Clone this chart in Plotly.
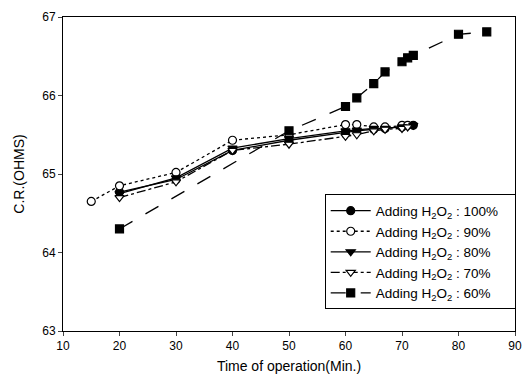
import plotly.graph_objects as go

x100 = [20, 30, 40, 50, 60, 62, 65, 67, 70, 72]
y100 = [64.77, 64.93, 65.30, 65.43, 65.53, 65.55, 65.57, 65.58, 65.60, 65.62]
x90 = [15, 20, 30, 40, 50, 60, 62, 65, 67, 70, 71]
y90 = [64.65, 64.85, 65.02, 65.43, 65.50, 65.63, 65.63, 65.60, 65.60, 65.62, 65.62]
x80 = [20, 30, 40, 50, 60, 62, 65, 67, 70, 72]
y80 = [64.75, 64.95, 65.33, 65.45, 65.55, 65.56, 65.58, 65.58, 65.60, 65.62]
x70 = [20, 30, 40, 50, 60, 62, 65, 67, 70, 71]
y70 = [64.70, 64.90, 65.30, 65.38, 65.48, 65.50, 65.55, 65.57, 65.58, 65.60]
x60 = [20, 50, 60, 62, 65, 67, 70, 71, 72, 80, 85]
y60 = [64.30, 65.55, 65.86, 65.97, 66.15, 66.30, 66.43, 66.48, 66.51, 66.78, 66.81]

names = ["Adding H<sub>2</sub>O<sub>2</sub> : 100%", "Adding H<sub>2</sub>O<sub>2</sub> : 90%",
         "Adding H<sub>2</sub>O<sub>2</sub> : 80%", "Adding H<sub>2</sub>O<sub>2</sub> : 70%",
         "Adding H<sub>2</sub>O<sub>2</sub> : 60%"]

series = [
    (x100, y100, "circle", "black", "solid"),
    (x90, y90, "circle", "white", "dot"),
    (x80, y80, "triangle-down", "black", "solid"),
    (x70, y70, "triangle-down", "white", "dashdot"),
    (x60, y60, "square", "black", "longdash"),
]

fig = go.Figure()
for (xs, ys, sym, fill, dash), nm in zip(series, names):
    fig.add_trace(go.Scatter(
        x=xs, y=ys, name=nm + "\u00a0\u00a0\u00a0", mode="lines+markers",
        line=dict(color="black", width=1.3, dash=dash),
        marker=dict(symbol=sym, size=8, color=fill,
                    line=dict(color="black", width=1.2)),
    ))

fig.update_layout(
    width=532, height=388,
    margin=dict(l=63, r=15, t=10, b=57),
    paper_bgcolor="white", plot_bgcolor="white",
    font=dict(family="Liberation Sans, Arial", size=12, color="black"),
    showlegend=True,
    legend=dict(x=0.579, y=0.435, xanchor="left", yanchor="top",
                bordercolor="black", borderwidth=1, bgcolor="white",
                itemwidth=40, font=dict(size=13.5)),
)
fig.update_xaxes(range=[10, 90], tickvals=[10, 20, 30, 40, 50, 60, 70, 80, 90],
                 showgrid=False, zeroline=False, showline=True, linecolor="black",
                 linewidth=1, mirror=True, ticks="outside", ticklen=4,
                 title=dict(text="Time of operation(Min.)", font=dict(size=14), standoff=8))
fig.update_yaxes(range=[63, 67], tickvals=[63, 64, 65, 66, 67],
                 showgrid=False, zeroline=False, showline=True, linecolor="black",
                 linewidth=1, mirror=True, ticks="outside", ticklen=4,
                 title=dict(text="C.R.(OHMS)", font=dict(size=14), standoff=14))

fig.write_html("out.html", config={"displayModeBar": False},
               post_script="document.body.style.margin='0';")
